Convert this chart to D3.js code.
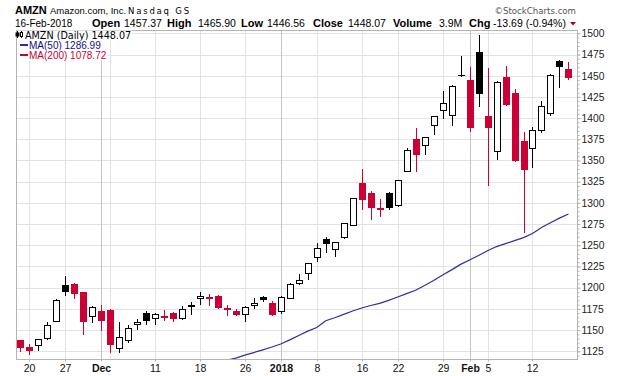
<!DOCTYPE html>
<html>
<head>
<meta charset="utf-8">
<script src="https://cdn.jsdelivr.net/npm/d3@7"></script>
<style>
body { margin: 0; background: #fff; }
svg { display: block; font-family: "Liberation Sans", Arial, sans-serif; }
</style>
</head>
<body>
<div id="chart"></div>
<script>
// daily candles, AMZN 17-Nov-2017 .. 16-Feb-2018
let dates = [
    '2017-11-17', '2017-11-20', '2017-11-21', '2017-11-22', '2017-11-24',
    '2017-11-27', '2017-11-28', '2017-11-29', '2017-11-30', '2017-12-01',
    '2017-12-04', '2017-12-05', '2017-12-06', '2017-12-07', '2017-12-08',
    '2017-12-11', '2017-12-12', '2017-12-13', '2017-12-14', '2017-12-15',
    '2017-12-18', '2017-12-19', '2017-12-20', '2017-12-21', '2017-12-22',
    '2017-12-26', '2017-12-27', '2017-12-28', '2017-12-29',
    '2018-01-02', '2018-01-03', '2018-01-04', '2018-01-05',
    '2018-01-08', '2018-01-09', '2018-01-10', '2018-01-11', '2018-01-12',
    '2018-01-16', '2018-01-17', '2018-01-18', '2018-01-19',
    '2018-01-22', '2018-01-23', '2018-01-24', '2018-01-25', '2018-01-26',
    '2018-01-29', '2018-01-30', '2018-01-31', '2018-02-01', '2018-02-02',
    '2018-02-05', '2018-02-06', '2018-02-07', '2018-02-08', '2018-02-09',
    '2018-02-12', '2018-02-13', '2018-02-14', '2018-02-15', '2018-02-16'
];
let opens = [
    1138.5, 1130.0, 1132.0, 1141.0, 1160.7,
    1202.7, 1204.9, 1194.8, 1167.0, 1172.0,
    1173.9, 1128.3, 1138.0, 1156.6, 1170.4,
    1164.1, 1166.5, 1170.0, 1163.7, 1179.0,
    1187.4, 1189.2, 1190.5, 1175.9, 1172.1,
    1168.4, 1179.9, 1189.0, 1182.4,
    1172.0, 1188.3, 1205.0, 1217.5,
    1236.0, 1256.9, 1245.2, 1259.7, 1273.4,
    1323.0, 1312.2, 1294.0, 1312.0,
    1297.2, 1338.1, 1374.8, 1368.0, 1392.0,
    1409.2, 1403.2, 1451.3, 1445.0, 1477.4,
    1402.6, 1361.5, 1449.0, 1429.7, 1373.5,
    1364.7, 1385.9, 1406.3, 1466.9, 1457.4
];
let highs = [
    1138.8, 1134.0, 1139.8, 1160.0, 1186.8,
    1213.9, 1205.3, 1194.8, 1178.6, 1179.6,
    1175.2, 1159.3, 1155.9, 1163.2, 1172.8,
    1170.0, 1173.6, 1170.9, 1177.9, 1182.8,
    1194.8, 1193.0, 1191.0, 1179.5, 1174.6,
    1178.3, 1187.3, 1190.1, 1184.0,
    1190.0, 1205.5, 1215.9, 1229.1,
    1253.1, 1259.3, 1254.3, 1276.8, 1305.8,
    1339.9, 1314.0, 1304.6, 1313.0,
    1327.5, 1364.9, 1388.2, 1378.3, 1402.5,
    1431.4, 1439.3, 1472.7, 1459.9, 1498.0,
    1459.0, 1444.0, 1461.0, 1433.8, 1383.5,
    1390.0, 1419.7, 1452.1, 1468.9, 1465.9
];
let lows = [
    1125.0, 1122.0, 1126.5, 1140.0, 1160.7,
    1191.0, 1188.3, 1145.2, 1159.0, 1150.0,
    1124.7, 1124.7, 1136.1, 1151.0, 1157.1,
    1156.6, 1161.6, 1160.3, 1162.5, 1169.3,
    1180.9, 1179.1, 1176.0, 1167.8, 1167.8,
    1160.6, 1175.6, 1184.4, 1167.5,
    1170.5, 1188.3, 1204.7, 1210.0,
    1232.0, 1241.8, 1237.2, 1258.3, 1273.4,
    1292.3, 1280.9, 1284.0, 1293.0,
    1296.7, 1337.3, 1338.0, 1357.6, 1380.9,
    1400.4, 1392.0, 1450.0, 1385.1, 1414.0,
    1320.7, 1351.8, 1415.2, 1349.9, 1265.9,
    1342.6, 1383.5, 1403.4, 1436.8, 1446.6
];
let closes = [
    1129.9, 1126.3, 1139.5, 1156.2, 1186.0,
    1195.8, 1193.6, 1161.3, 1176.8, 1162.4,
    1134.0, 1141.6, 1152.4, 1159.8, 1162.0,
    1168.9, 1165.1, 1164.1, 1174.3, 1179.1,
    1190.6, 1187.4, 1177.6, 1174.8, 1168.4,
    1176.8, 1182.3, 1186.1, 1169.5,
    1189.0, 1204.2, 1209.6, 1229.1,
    1246.9, 1252.7, 1254.3, 1276.7, 1305.2,
    1304.9, 1295.0, 1293.3, 1294.6,
    1327.3, 1362.5, 1357.5, 1378.0, 1402.1,
    1417.7, 1437.8, 1450.9, 1390.0, 1430.0,
    1390.0, 1442.8, 1416.8, 1350.5, 1339.6,
    1386.2, 1414.5, 1451.1, 1461.8, 1448.1
];
let closeBefore = 1137.3;   // close of 16-Nov-2017, colours the first candle

// 50-day moving average (earlier days lie below the visible range)
let ma50 = [
    null, null, null, null, null, null, null, null, null, null,
    null, null, null, null, null, null, null, null, null, null,
    null, null, 1112.0, 1114.5, 1117.0, 1120.5, 1123.5, 1126.7, 1130.0, 1133.6,
    1138.5, 1143.7, 1148.8, 1153.0, 1161.0, 1164.5, 1168.5, 1172.5, 1176.0, 1179.0,
    1181.5, 1185.0, 1189.0, 1193.0, 1197.0, 1202.5, 1208.5, 1215.0, 1221.0, 1227.5,
    1232.7, 1238.0, 1243.5, 1248.5, 1252.0, 1255.5, 1259.0, 1264.0, 1271.0, 1276.5,
    1282.0, 1287.0
];

let priceTicks = [1125, 1150, 1175, 1200, 1225, 1250, 1275, 1300, 1325, 1350,
    1375, 1400, 1425, 1450, 1475, 1500];
let gridDates = ['2017-11-20', '2017-11-27', '2017-12-04', '2017-12-11', '2017-12-18',
    '2017-12-26', '2018-01-08', '2018-01-16', '2018-01-22', '2018-01-29',
    '2018-02-05', '2018-02-12'];
let monthDates = ['2017-12-01', '2018-01-02', '2018-02-01'];
let labelDates = ['2017-11-20', '2017-11-27', '2017-12-01', '2017-12-11', '2017-12-18',
    '2017-12-26', '2018-01-02', '2018-01-08', '2018-01-16', '2018-01-22',
    '2018-01-29', '2018-02-01', '2018-02-05', '2018-02-12'];
let labelTexts = ['20', '27', 'Dec', '11', '18', '26', '2018', '8', '16', '22',
    '29', 'Feb', '5', '12'];

let quoteNames = ['Open', 'High', 'Low', 'Close', 'Volume', 'Chg'];
let quoteValues = ['1457.37', '1465.90', '1446.56', '1448.07', '3.9M', '-13.69 (-0.94%)'];

let RED = '#cc0033', BLACK = '#000', BLUE = '#2e2e9e';
let plot = { left: 16, right: 577, top: 30, bottom: 359 };

let svg = d3.select('#chart').append('svg')
    .attr('width', 620)
    .attr('height', 376);

let x = d3.scaleLinear()
    .domain([-0.45, dates.length - 0.05])
    .range([plot.left, plot.right]);
let y = d3.scaleLinear()
    .domain([1115.9, 1503.9])
    .range([plot.bottom, plot.top]);

function px(i) { return Math.round(x(i)); }
function idx(d) { return dates.indexOf(d); }

svg.append('clipPath').attr('id', 'plot-clip')
    .append('rect')
    .attr('x', plot.left).attr('y', plot.top)
    .attr('width', plot.right - plot.left).attr('height', plot.bottom - plot.top);

// grid
let grid = svg.append('g').attr('class', 'grid');
grid.selectAll('line.h').data(priceTicks).enter().append('line')
    .attr('x1', plot.left).attr('x2', plot.right)
    .attr('y1', d => Math.round(y(d)) + 0.5).attr('y2', d => Math.round(y(d)) + 0.5)
    .attr('stroke', '#e3e3e3');
grid.selectAll('line.w').data(gridDates).enter().append('line')
    .attr('x1', d => px(idx(d)) + 0.5).attr('x2', d => px(idx(d)) + 0.5)
    .attr('y1', plot.top).attr('y2', plot.bottom)
    .attr('stroke', '#e3e3e3');
grid.selectAll('line.m').data(monthDates).enter().append('line')
    .attr('x1', d => px(idx(d)) + 0.5).attr('x2', d => px(idx(d)) + 0.5)
    .attr('y1', plot.top).attr('y2', plot.bottom)
    .attr('stroke', '#c4c4c4');

// frame
svg.append('rect')
    .attr('x', plot.left + 0.5).attr('y', plot.top + 0.5)
    .attr('width', plot.right - plot.left).attr('height', plot.bottom - plot.top)
    .attr('fill', 'none').attr('stroke', '#b4b4b4');

// y axis on the right, major + minor ticks
let yMinor = svg.append('g')
    .attr('transform', 'translate(' + (plot.right + 0.5) + ',0)')
    .call(d3.axisRight(y).tickValues(d3.range(1120, 1501, 5)).tickSize(2).tickFormat(''));
let yAxis = svg.append('g')
    .attr('transform', 'translate(' + (plot.right + 0.5) + ',0)')
    .call(d3.axisRight(y).tickValues(priceTicks).tickSize(3).tickPadding(1)
        .tickFormat(d3.format('d')));
[yMinor, yAxis].forEach(function(g) {
    g.select('.domain').remove();
    g.selectAll('line').attr('stroke', '#b4b4b4');
});
yAxis.selectAll('text')
    .attr('fill', '#222')
    .style('font-size', '10.3px')
    .style('font-family', '"Liberation Sans", Arial, sans-serif');

// x axis
let xAxis = svg.append('g')
    .attr('transform', 'translate(0,' + (plot.bottom + 0.5) + ')')
    .call(d3.axisBottom(x)
        .tickValues(labelDates.map(idx))
        .tickFormat((d, i) => labelTexts[i])
        .tickSize(2)
        .tickPadding(3.5));
xAxis.select('.domain').remove();
xAxis.selectAll('.tick')
    .attr('transform', d => 'translate(' + (px(d) + 0.5) + ',0)');
xAxis.selectAll('line').attr('stroke', '#b4b4b4');
xAxis.selectAll('text')
    .attr('fill', '#111')
    .style('font-size', '10.5px')
    .style('font-family', '"Liberation Sans", Arial, sans-serif')
    .style('font-weight', (d, i) => monthDates.indexOf(labelDates[i]) >= 0 ? 'bold' : 'normal');

// candles
let candles = dates.map(function(d, i) {
    let prev = i == 0 ? closeBefore : closes[i - 1];
    return {
        i: i, o: opens[i], h: highs[i], l: lows[i], c: closes[i],
        color: closes[i] >= prev ? BLACK : RED,
        filled: closes[i] < opens[i]
    };
});

let body = svg.append('g').attr('clip-path', 'url(#plot-clip)');

let cg = body.selectAll('g.candle').data(candles).enter().append('g')
    .attr('class', 'candle');

cg.append('line')
    .attr('x1', d => px(d.i) + 0.5).attr('x2', d => px(d.i) + 0.5)
    .attr('y1', d => Math.round(y(d.h))).attr('y2', d => Math.round(y(d.l)) + 1)
    .attr('stroke', d => d.color);

cg.append('rect')
    .attr('x', d => d.filled ? px(d.i) - 3 : px(d.i) - 2.5)
    .attr('width', d => d.filled ? 7 : 6)
    .attr('y', function(d) {
        let top = Math.round(y(Math.max(d.o, d.c)));
        return d.filled ? top : top + 0.5;
    })
    .attr('height', function(d) {
        let top = Math.round(y(Math.max(d.o, d.c)));
        let bot = Math.round(y(Math.min(d.o, d.c)));
        return Math.max(d.filled ? bot - top + 1 : bot - top, 1);
    })
    .attr('fill', d => d.filled ? d.color : '#fff')
    .attr('stroke', d => d.filled ? 'none' : d.color)
    .attr('stroke-width', 1);

// moving average
body.append('path')
    .datum(ma50.map((v, i) => [i, v]))
    .attr('fill', 'none')
    .attr('stroke', BLUE)
    .attr('stroke-width', 1.2)
    .attr('d', d3.line()
        .defined(d => d[1] != null)
        .x(d => x(d[0]))
        .y(d => y(d[1])));

// header
let head = svg.append('g').attr('fill', '#000');
head.append('text').attr('x', 15).attr('y', 14)
    .style('font-size', '11px').style('font-weight', 'bold').text('AMZN');
head.append('text').attr('x', 50).attr('y', 14)
    .style('font-size', '9.5px').text('Amazon.com, Inc.');
head.append('text').attr('x', 128).attr('y', 14)
    .style('font-family', '"DejaVu Sans", sans-serif')
    .style('font-size', '8.5px').style('letter-spacing', '1.8px').text('Nasdaq GS');
head.append('text').attr('x', 576).attr('y', 14)
    .attr('text-anchor', 'end').attr('fill', '#555')
    .style('font-family', '"DejaVu Sans", sans-serif')
    .style('font-size', '8.6px').text('\u00a9StockCharts.com');

head.append('text').attr('x', 15).attr('y', 27)
    .style('font-size', '10px').text('16-Feb-2018');

let nameX = [92, 167, 241, 313, 393, 469];
let valueX = [124, 198, 267, 348, 439, 493];
quoteNames.forEach(function(name, i) {
    head.append('text').attr('x', nameX[i]).attr('y', 27)
        .style('font-size', '11px').style('font-weight', 'bold').text(name);
    head.append('text').attr('x', valueX[i]).attr('y', 27)
        .style('font-size', '10.5px').text(quoteValues[i]);
});
head.append('path')
    .attr('d', 'M570,22L576,22L573,25.5Z')
    .attr('fill', '#a0002a');

// legend
let legend = svg.append('g');
let rows = [
    { text: 'AMZN (Daily) 1448.07', color: '#000', y: 38.5, font: '"DejaVu Sans", sans-serif', size: '9.6px' },
    { text: 'MA(50) 1286.99', color: '#10108c', y: 48.5, font: '"Liberation Sans", Arial, sans-serif', size: '10px', mark: BLUE },
    { text: 'MA(200) 1078.72', color: RED, y: 58.5, font: '"Liberation Sans", Arial, sans-serif', size: '10px', mark: RED }
];
rows.forEach(function(r) {
    let g = legend.append('g');
    let t = g.append('text').attr('x', r.mark ? 29 : 25).attr('y', r.y)
        .attr('fill', r.color)
        .style('font-family', r.font).style('font-size', r.size)
        .text(r.text);
    let bb = t.node().getBBox();
    g.insert('rect', 'text')
        .attr('x', 17).attr('y', bb.y + 1)
        .attr('width', bb.x + bb.width - 17 + 1).attr('height', bb.height - 1)
        .attr('fill', '#fff');
    if (r.mark) {
        g.append('line')
            .attr('x1', 20).attr('x2', 28)
            .attr('y1', r.y - 3.5).attr('y2', r.y - 3.5)
            .attr('stroke', r.mark).attr('stroke-width', 2);
    }
});
// tiny candle glyph before the price row
let icon = legend.append('g').attr('stroke', '#000').attr('fill', '#000');
icon.append('line').attr('x1', 17.5).attr('x2', 17.5).attr('y1', 31).attr('y2', 38);
icon.append('rect').attr('x', 16).attr('y', 33).attr('width', 3).attr('height', 3);
icon.append('line').attr('x1', 21.5).attr('x2', 21.5).attr('y1', 31).attr('y2', 38);
icon.append('rect').attr('x', 20.5).attr('y', 32.5).attr('width', 2).attr('height', 4).attr('fill', '#fff');
</script>
</body>
</html>
